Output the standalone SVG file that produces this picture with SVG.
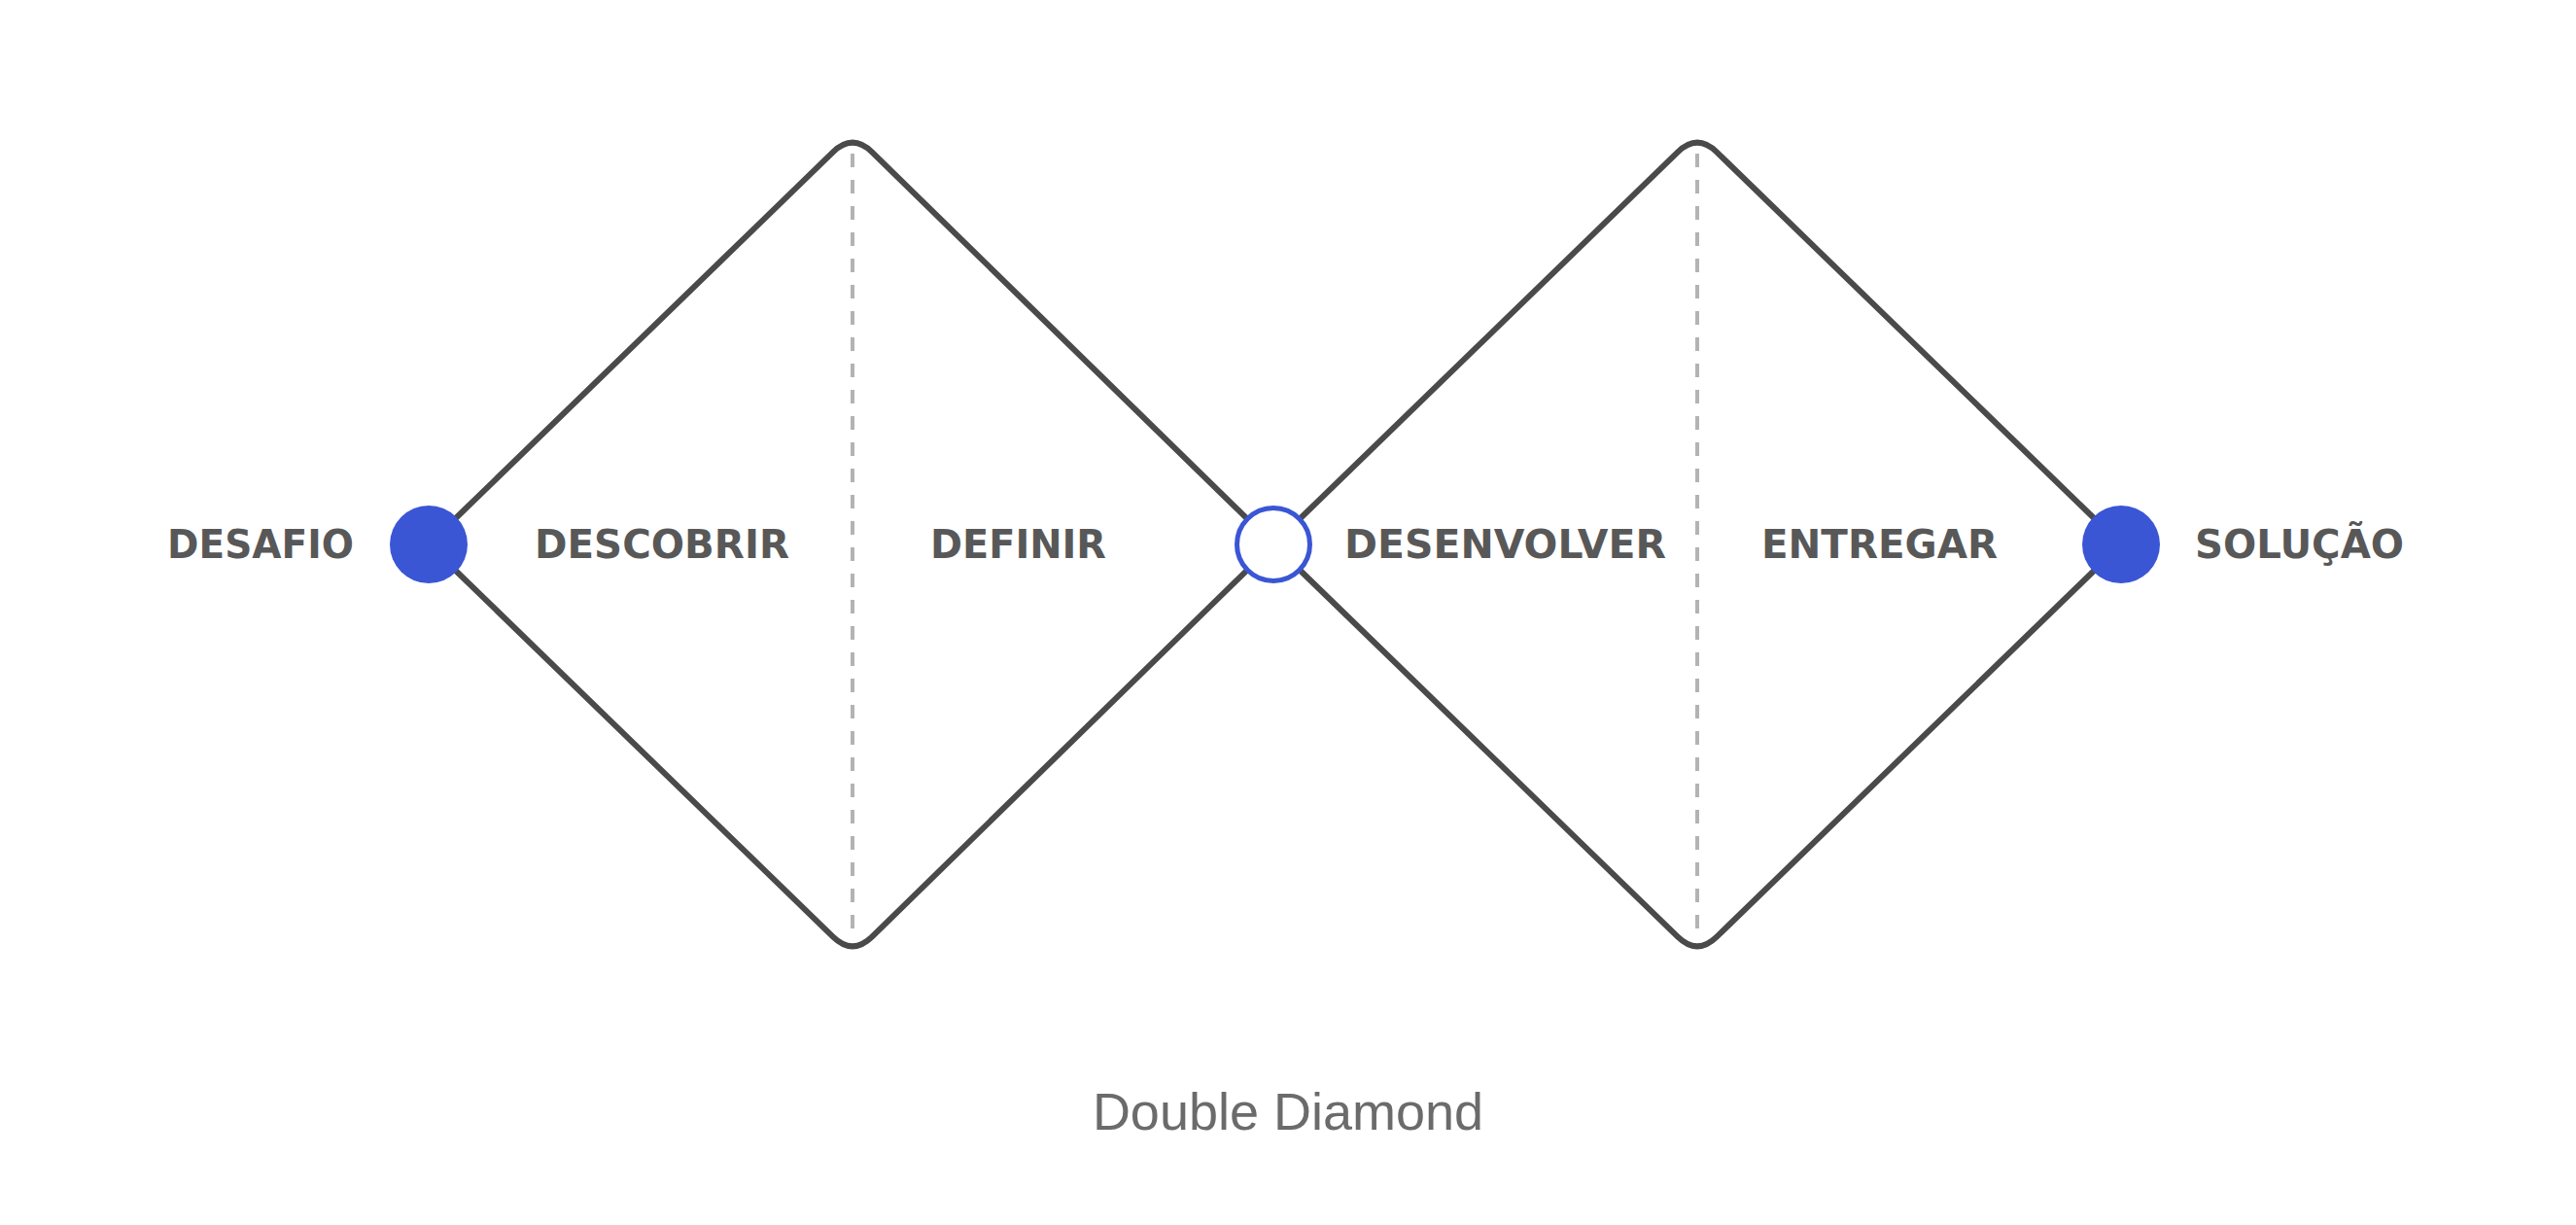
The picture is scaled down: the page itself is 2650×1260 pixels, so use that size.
<svg xmlns="http://www.w3.org/2000/svg" width="2650" height="1260" viewBox="0 0 2650 1260">
<style>
.edge{fill:none;stroke:#4a4a4a;stroke-width:6;stroke-linejoin:round;stroke-linecap:round}
.div{fill:none;stroke:#b3b3b3;stroke-width:4;stroke-dasharray:14 13}
.lbl{font-family:"DejaVu Sans","Liberation Sans",sans-serif;font-weight:bold;font-size:40px;fill:#585858}
.cap{font-family:"Liberation Sans",Arial,sans-serif;font-size:54px;fill:#6b6b6b}
.dot{fill:#3a56d4}
.open{fill:#ffffff;stroke:#3a56d4;stroke-width:5}
</style>
<rect width="2650" height="1260" fill="#ffffff"/>
<g id="connectors">
<path class="edge" d="M441 560 L857 156.4 Q877 137 897 156.4 L1310 560 L897 963.6 Q877 983 857 963.6 Z"/>
<path class="edge" d="M1310 560 L1726 156.4 Q1746 137 1766 156.4 L2182 560 L1766 963.6 Q1746 983 1726 963.6 Z"/>
<line class="div" x1="877" y1="158" x2="877" y2="968"/>
<line class="div" x1="1746" y1="158" x2="1746" y2="968"/>
</g>
<g id="node-desafio">
<circle class="dot" cx="441" cy="560" r="40"/>
<text class="lbl" x="172" y="574" textLength="192" lengthAdjust="spacingAndGlyphs">DESAFIO</text>
</g>
<g id="node-descobrir">
<text class="lbl" x="550" y="574" textLength="262" lengthAdjust="spacingAndGlyphs">DESCOBRIR</text>
</g>
<g id="node-definir">
<text class="lbl" x="957" y="574" textLength="181" lengthAdjust="spacingAndGlyphs">DEFINIR</text>
</g>
<g id="node-meio">
<circle class="open" cx="1310" cy="560" r="37.5"/>
</g>
<g id="node-desenvolver">
<text class="lbl" x="1383" y="574" textLength="331" lengthAdjust="spacingAndGlyphs">DESENVOLVER</text>
</g>
<g id="node-entregar">
<text class="lbl" x="1812" y="574" textLength="243" lengthAdjust="spacingAndGlyphs">ENTREGAR</text>
</g>
<g id="node-solucao">
<circle class="dot" cx="2182" cy="560" r="40"/>
<text class="lbl" x="2258" y="574" textLength="215" lengthAdjust="spacingAndGlyphs">SOLUÇÃO</text>
</g>
<g id="caption">
<text class="cap" x="1325" y="1162" text-anchor="middle">Double Diamond</text>
</g>
</svg>
